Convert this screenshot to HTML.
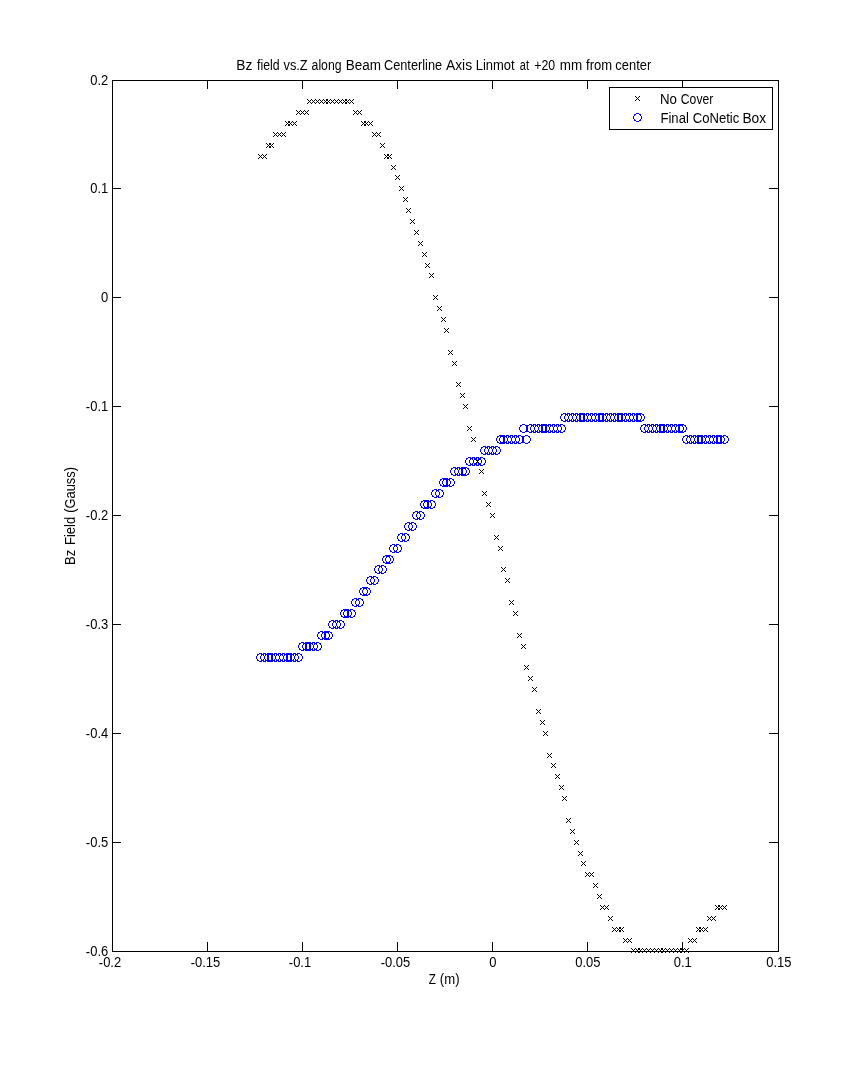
<!DOCTYPE html>
<html lang="en">
<head>
<meta charset="utf-8">
<title>Bz field vs.Z along Beam Centerline Axis</title>
<style>
html,body{margin:0;padding:0;background:#fff;}
body{width:860px;height:1068px;overflow:hidden;}
svg{display:block;}
text{font-family:"Liberation Sans",sans-serif;font-size:14px;fill:#000;}
</style>
</head>
<body>
<svg width="860" height="1068" viewBox="0 0 860 1068">
<rect width="860" height="1068" fill="#fff"/>
<g shape-rendering="crispEdges">
<path fill="#000" d="M112 80h667v1h-667zM112 951h667v1h-667zM112 80h1v872h-1zM778 80h1v872h-1zM207 80h1v9h-1zM207 942h1v9h-1zM302 80h1v9h-1zM302 942h1v9h-1zM397 80h1v9h-1zM397 942h1v9h-1zM492 80h1v9h-1zM492 942h1v9h-1zM587 80h1v9h-1zM587 942h1v9h-1zM682 80h1v9h-1zM682 942h1v9h-1zM112 188h9v1h-9zM769 188h10v1h-10zM112 297h9v1h-9zM769 297h10v1h-10zM112 406h9v1h-9zM769 406h10v1h-10zM112 515h9v1h-9zM769 515h10v1h-10zM112 624h9v1h-9zM769 624h10v1h-10zM112 733h9v1h-9zM769 733h10v1h-10zM112 842h9v1h-9zM769 842h10v1h-10z"/>
<path fill="#00f" d="M259 653h3v1h-3zM257 654h2v1h-2zM262 654h2v1h-2zM257 655h1v1h-1zM263 655h1v1h-1zM256 656h1v3h-1zM264 656h1v3h-1zM257 659h1v1h-1zM263 659h1v1h-1zM257 660h2v1h-2zM262 660h2v1h-2zM259 661h3v1h-3zM263 653h3v1h-3zM261 654h2v1h-2zM266 654h2v1h-2zM261 655h1v1h-1zM267 655h1v1h-1zM260 656h1v3h-1zM268 656h1v3h-1zM261 659h1v1h-1zM267 659h1v1h-1zM261 660h2v1h-2zM266 660h2v1h-2zM263 661h3v1h-3zM267 653h3v1h-3zM265 654h2v1h-2zM270 654h2v1h-2zM265 655h1v1h-1zM271 655h1v1h-1zM264 656h1v3h-1zM272 656h1v3h-1zM265 659h1v1h-1zM271 659h1v1h-1zM265 660h2v1h-2zM270 660h2v1h-2zM267 661h3v1h-3zM270 653h3v1h-3zM268 654h2v1h-2zM273 654h2v1h-2zM268 655h1v1h-1zM274 655h1v1h-1zM267 656h1v3h-1zM275 656h1v3h-1zM268 659h1v1h-1zM274 659h1v1h-1zM268 660h2v1h-2zM273 660h2v1h-2zM270 661h3v1h-3zM274 653h3v1h-3zM272 654h2v1h-2zM277 654h2v1h-2zM272 655h1v1h-1zM278 655h1v1h-1zM271 656h1v3h-1zM279 656h1v3h-1zM272 659h1v1h-1zM278 659h1v1h-1zM272 660h2v1h-2zM277 660h2v1h-2zM274 661h3v1h-3zM278 653h3v1h-3zM276 654h2v1h-2zM281 654h2v1h-2zM276 655h1v1h-1zM282 655h1v1h-1zM275 656h1v3h-1zM283 656h1v3h-1zM276 659h1v1h-1zM282 659h1v1h-1zM276 660h2v1h-2zM281 660h2v1h-2zM278 661h3v1h-3zM282 653h3v1h-3zM280 654h2v1h-2zM285 654h2v1h-2zM280 655h1v1h-1zM286 655h1v1h-1zM279 656h1v3h-1zM287 656h1v3h-1zM280 659h1v1h-1zM286 659h1v1h-1zM280 660h2v1h-2zM285 660h2v1h-2zM282 661h3v1h-3zM286 653h3v1h-3zM284 654h2v1h-2zM289 654h2v1h-2zM284 655h1v1h-1zM290 655h1v1h-1zM283 656h1v3h-1zM291 656h1v3h-1zM284 659h1v1h-1zM290 659h1v1h-1zM284 660h2v1h-2zM289 660h2v1h-2zM286 661h3v1h-3zM289 653h3v1h-3zM287 654h2v1h-2zM292 654h2v1h-2zM287 655h1v1h-1zM293 655h1v1h-1zM286 656h1v3h-1zM294 656h1v3h-1zM287 659h1v1h-1zM293 659h1v1h-1zM287 660h2v1h-2zM292 660h2v1h-2zM289 661h3v1h-3zM293 653h3v1h-3zM291 654h2v1h-2zM296 654h2v1h-2zM291 655h1v1h-1zM297 655h1v1h-1zM290 656h1v3h-1zM298 656h1v3h-1zM291 659h1v1h-1zM297 659h1v1h-1zM291 660h2v1h-2zM296 660h2v1h-2zM293 661h3v1h-3zM297 653h3v1h-3zM295 654h2v1h-2zM300 654h2v1h-2zM295 655h1v1h-1zM301 655h1v1h-1zM294 656h1v3h-1zM302 656h1v3h-1zM295 659h1v1h-1zM301 659h1v1h-1zM295 660h2v1h-2zM300 660h2v1h-2zM297 661h3v1h-3zM301 642h3v1h-3zM299 643h2v1h-2zM304 643h2v1h-2zM299 644h1v1h-1zM305 644h1v1h-1zM298 645h1v3h-1zM306 645h1v3h-1zM299 648h1v1h-1zM305 648h1v1h-1zM299 649h2v1h-2zM304 649h2v1h-2zM301 650h3v1h-3zM305 642h3v1h-3zM303 643h2v1h-2zM308 643h2v1h-2zM303 644h1v1h-1zM309 644h1v1h-1zM302 645h1v3h-1zM310 645h1v3h-1zM303 648h1v1h-1zM309 648h1v1h-1zM303 649h2v1h-2zM308 649h2v1h-2zM305 650h3v1h-3zM308 642h3v1h-3zM306 643h2v1h-2zM311 643h2v1h-2zM306 644h1v1h-1zM312 644h1v1h-1zM305 645h1v3h-1zM313 645h1v3h-1zM306 648h1v1h-1zM312 648h1v1h-1zM306 649h2v1h-2zM311 649h2v1h-2zM308 650h3v1h-3zM312 642h3v1h-3zM310 643h2v1h-2zM315 643h2v1h-2zM310 644h1v1h-1zM316 644h1v1h-1zM309 645h1v3h-1zM317 645h1v3h-1zM310 648h1v1h-1zM316 648h1v1h-1zM310 649h2v1h-2zM315 649h2v1h-2zM312 650h3v1h-3zM316 642h3v1h-3zM314 643h2v1h-2zM319 643h2v1h-2zM314 644h1v1h-1zM320 644h1v1h-1zM313 645h1v3h-1zM321 645h1v3h-1zM314 648h1v1h-1zM320 648h1v1h-1zM314 649h2v1h-2zM319 649h2v1h-2zM316 650h3v1h-3zM320 631h3v1h-3zM318 632h2v1h-2zM323 632h2v1h-2zM318 633h1v1h-1zM324 633h1v1h-1zM317 634h1v3h-1zM325 634h1v3h-1zM318 637h1v1h-1zM324 637h1v1h-1zM318 638h2v1h-2zM323 638h2v1h-2zM320 639h3v1h-3zM324 631h3v1h-3zM322 632h2v1h-2zM327 632h2v1h-2zM322 633h1v1h-1zM328 633h1v1h-1zM321 634h1v3h-1zM329 634h1v3h-1zM322 637h1v1h-1zM328 637h1v1h-1zM322 638h2v1h-2zM327 638h2v1h-2zM324 639h3v1h-3zM327 631h3v1h-3zM325 632h2v1h-2zM330 632h2v1h-2zM325 633h1v1h-1zM331 633h1v1h-1zM324 634h1v3h-1zM332 634h1v3h-1zM325 637h1v1h-1zM331 637h1v1h-1zM325 638h2v1h-2zM330 638h2v1h-2zM327 639h3v1h-3zM331 620h3v1h-3zM329 621h2v1h-2zM334 621h2v1h-2zM329 622h1v1h-1zM335 622h1v1h-1zM328 623h1v3h-1zM336 623h1v3h-1zM329 626h1v1h-1zM335 626h1v1h-1zM329 627h2v1h-2zM334 627h2v1h-2zM331 628h3v1h-3zM335 620h3v1h-3zM333 621h2v1h-2zM338 621h2v1h-2zM333 622h1v1h-1zM339 622h1v1h-1zM332 623h1v3h-1zM340 623h1v3h-1zM333 626h1v1h-1zM339 626h1v1h-1zM333 627h2v1h-2zM338 627h2v1h-2zM335 628h3v1h-3zM339 620h3v1h-3zM337 621h2v1h-2zM342 621h2v1h-2zM337 622h1v1h-1zM343 622h1v1h-1zM336 623h1v3h-1zM344 623h1v3h-1zM337 626h1v1h-1zM343 626h1v1h-1zM337 627h2v1h-2zM342 627h2v1h-2zM339 628h3v1h-3zM343 609h3v1h-3zM341 610h2v1h-2zM346 610h2v1h-2zM341 611h1v1h-1zM347 611h1v1h-1zM340 612h1v3h-1zM348 612h1v3h-1zM341 615h1v1h-1zM347 615h1v1h-1zM341 616h2v1h-2zM346 616h2v1h-2zM343 617h3v1h-3zM346 609h3v1h-3zM344 610h2v1h-2zM349 610h2v1h-2zM344 611h1v1h-1zM350 611h1v1h-1zM343 612h1v3h-1zM351 612h1v3h-1zM344 615h1v1h-1zM350 615h1v1h-1zM344 616h2v1h-2zM349 616h2v1h-2zM346 617h3v1h-3zM350 609h3v1h-3zM348 610h2v1h-2zM353 610h2v1h-2zM348 611h1v1h-1zM354 611h1v1h-1zM347 612h1v3h-1zM355 612h1v3h-1zM348 615h1v1h-1zM354 615h1v1h-1zM348 616h2v1h-2zM353 616h2v1h-2zM350 617h3v1h-3zM354 598h3v1h-3zM352 599h2v1h-2zM357 599h2v1h-2zM352 600h1v1h-1zM358 600h1v1h-1zM351 601h1v3h-1zM359 601h1v3h-1zM352 604h1v1h-1zM358 604h1v1h-1zM352 605h2v1h-2zM357 605h2v1h-2zM354 606h3v1h-3zM358 598h3v1h-3zM356 599h2v1h-2zM361 599h2v1h-2zM356 600h1v1h-1zM362 600h1v1h-1zM355 601h1v3h-1zM363 601h1v3h-1zM356 604h1v1h-1zM362 604h1v1h-1zM356 605h2v1h-2zM361 605h2v1h-2zM358 606h3v1h-3zM362 587h3v1h-3zM360 588h2v1h-2zM365 588h2v1h-2zM360 589h1v1h-1zM366 589h1v1h-1zM359 590h1v3h-1zM367 590h1v3h-1zM360 593h1v1h-1zM366 593h1v1h-1zM360 594h2v1h-2zM365 594h2v1h-2zM362 595h3v1h-3zM365 587h3v1h-3zM363 588h2v1h-2zM368 588h2v1h-2zM363 589h1v1h-1zM369 589h1v1h-1zM362 590h1v3h-1zM370 590h1v3h-1zM363 593h1v1h-1zM369 593h1v1h-1zM363 594h2v1h-2zM368 594h2v1h-2zM365 595h3v1h-3zM369 576h3v1h-3zM367 577h2v1h-2zM372 577h2v1h-2zM367 578h1v1h-1zM373 578h1v1h-1zM366 579h1v3h-1zM374 579h1v3h-1zM367 582h1v1h-1zM373 582h1v1h-1zM367 583h2v1h-2zM372 583h2v1h-2zM369 584h3v1h-3zM373 576h3v1h-3zM371 577h2v1h-2zM376 577h2v1h-2zM371 578h1v1h-1zM377 578h1v1h-1zM370 579h1v3h-1zM378 579h1v3h-1zM371 582h1v1h-1zM377 582h1v1h-1zM371 583h2v1h-2zM376 583h2v1h-2zM373 584h3v1h-3zM377 565h3v1h-3zM375 566h2v1h-2zM380 566h2v1h-2zM375 567h1v1h-1zM381 567h1v1h-1zM374 568h1v3h-1zM382 568h1v3h-1zM375 571h1v1h-1zM381 571h1v1h-1zM375 572h2v1h-2zM380 572h2v1h-2zM377 573h3v1h-3zM381 565h3v1h-3zM379 566h2v1h-2zM384 566h2v1h-2zM379 567h1v1h-1zM385 567h1v1h-1zM378 568h1v3h-1zM386 568h1v3h-1zM379 571h1v1h-1zM385 571h1v1h-1zM379 572h2v1h-2zM384 572h2v1h-2zM381 573h3v1h-3zM385 555h3v1h-3zM383 556h2v1h-2zM388 556h2v1h-2zM383 557h1v1h-1zM389 557h1v1h-1zM382 558h1v3h-1zM390 558h1v3h-1zM383 561h1v1h-1zM389 561h1v1h-1zM383 562h2v1h-2zM388 562h2v1h-2zM385 563h3v1h-3zM388 555h3v1h-3zM386 556h2v1h-2zM391 556h2v1h-2zM386 557h1v1h-1zM392 557h1v1h-1zM385 558h1v3h-1zM393 558h1v3h-1zM386 561h1v1h-1zM392 561h1v1h-1zM386 562h2v1h-2zM391 562h2v1h-2zM388 563h3v1h-3zM392 544h3v1h-3zM390 545h2v1h-2zM395 545h2v1h-2zM390 546h1v1h-1zM396 546h1v1h-1zM389 547h1v3h-1zM397 547h1v3h-1zM390 550h1v1h-1zM396 550h1v1h-1zM390 551h2v1h-2zM395 551h2v1h-2zM392 552h3v1h-3zM396 544h3v1h-3zM394 545h2v1h-2zM399 545h2v1h-2zM394 546h1v1h-1zM400 546h1v1h-1zM393 547h1v3h-1zM401 547h1v3h-1zM394 550h1v1h-1zM400 550h1v1h-1zM394 551h2v1h-2zM399 551h2v1h-2zM396 552h3v1h-3zM400 533h3v1h-3zM398 534h2v1h-2zM403 534h2v1h-2zM398 535h1v1h-1zM404 535h1v1h-1zM397 536h1v3h-1zM405 536h1v3h-1zM398 539h1v1h-1zM404 539h1v1h-1zM398 540h2v1h-2zM403 540h2v1h-2zM400 541h3v1h-3zM404 533h3v1h-3zM402 534h2v1h-2zM407 534h2v1h-2zM402 535h1v1h-1zM408 535h1v1h-1zM401 536h1v3h-1zM409 536h1v3h-1zM402 539h1v1h-1zM408 539h1v1h-1zM402 540h2v1h-2zM407 540h2v1h-2zM404 541h3v1h-3zM407 522h3v1h-3zM405 523h2v1h-2zM410 523h2v1h-2zM405 524h1v1h-1zM411 524h1v1h-1zM404 525h1v3h-1zM412 525h1v3h-1zM405 528h1v1h-1zM411 528h1v1h-1zM405 529h2v1h-2zM410 529h2v1h-2zM407 530h3v1h-3zM411 522h3v1h-3zM409 523h2v1h-2zM414 523h2v1h-2zM409 524h1v1h-1zM415 524h1v1h-1zM408 525h1v3h-1zM416 525h1v3h-1zM409 528h1v1h-1zM415 528h1v1h-1zM409 529h2v1h-2zM414 529h2v1h-2zM411 530h3v1h-3zM415 511h3v1h-3zM413 512h2v1h-2zM418 512h2v1h-2zM413 513h1v1h-1zM419 513h1v1h-1zM412 514h1v3h-1zM420 514h1v3h-1zM413 517h1v1h-1zM419 517h1v1h-1zM413 518h2v1h-2zM418 518h2v1h-2zM415 519h3v1h-3zM419 511h3v1h-3zM417 512h2v1h-2zM422 512h2v1h-2zM417 513h1v1h-1zM423 513h1v1h-1zM416 514h1v3h-1zM424 514h1v3h-1zM417 517h1v1h-1zM423 517h1v1h-1zM417 518h2v1h-2zM422 518h2v1h-2zM419 519h3v1h-3zM423 500h3v1h-3zM421 501h2v1h-2zM426 501h2v1h-2zM421 502h1v1h-1zM427 502h1v1h-1zM420 503h1v3h-1zM428 503h1v3h-1zM421 506h1v1h-1zM427 506h1v1h-1zM421 507h2v1h-2zM426 507h2v1h-2zM423 508h3v1h-3zM426 500h3v1h-3zM424 501h2v1h-2zM429 501h2v1h-2zM424 502h1v1h-1zM430 502h1v1h-1zM423 503h1v3h-1zM431 503h1v3h-1zM424 506h1v1h-1zM430 506h1v1h-1zM424 507h2v1h-2zM429 507h2v1h-2zM426 508h3v1h-3zM430 500h3v1h-3zM428 501h2v1h-2zM433 501h2v1h-2zM428 502h1v1h-1zM434 502h1v1h-1zM427 503h1v3h-1zM435 503h1v3h-1zM428 506h1v1h-1zM434 506h1v1h-1zM428 507h2v1h-2zM433 507h2v1h-2zM430 508h3v1h-3zM434 489h3v1h-3zM432 490h2v1h-2zM437 490h2v1h-2zM432 491h1v1h-1zM438 491h1v1h-1zM431 492h1v3h-1zM439 492h1v3h-1zM432 495h1v1h-1zM438 495h1v1h-1zM432 496h2v1h-2zM437 496h2v1h-2zM434 497h3v1h-3zM438 489h3v1h-3zM436 490h2v1h-2zM441 490h2v1h-2zM436 491h1v1h-1zM442 491h1v1h-1zM435 492h1v3h-1zM443 492h1v3h-1zM436 495h1v1h-1zM442 495h1v1h-1zM436 496h2v1h-2zM441 496h2v1h-2zM438 497h3v1h-3zM442 478h3v1h-3zM440 479h2v1h-2zM445 479h2v1h-2zM440 480h1v1h-1zM446 480h1v1h-1zM439 481h1v3h-1zM447 481h1v3h-1zM440 484h1v1h-1zM446 484h1v1h-1zM440 485h2v1h-2zM445 485h2v1h-2zM442 486h3v1h-3zM445 478h3v1h-3zM443 479h2v1h-2zM448 479h2v1h-2zM443 480h1v1h-1zM449 480h1v1h-1zM442 481h1v3h-1zM450 481h1v3h-1zM443 484h1v1h-1zM449 484h1v1h-1zM443 485h2v1h-2zM448 485h2v1h-2zM445 486h3v1h-3zM449 478h3v1h-3zM447 479h2v1h-2zM452 479h2v1h-2zM447 480h1v1h-1zM453 480h1v1h-1zM446 481h1v3h-1zM454 481h1v3h-1zM447 484h1v1h-1zM453 484h1v1h-1zM447 485h2v1h-2zM452 485h2v1h-2zM449 486h3v1h-3zM453 467h3v1h-3zM451 468h2v1h-2zM456 468h2v1h-2zM451 469h1v1h-1zM457 469h1v1h-1zM450 470h1v3h-1zM458 470h1v3h-1zM451 473h1v1h-1zM457 473h1v1h-1zM451 474h2v1h-2zM456 474h2v1h-2zM453 475h3v1h-3zM457 467h3v1h-3zM455 468h2v1h-2zM460 468h2v1h-2zM455 469h1v1h-1zM461 469h1v1h-1zM454 470h1v3h-1zM462 470h1v3h-1zM455 473h1v1h-1zM461 473h1v1h-1zM455 474h2v1h-2zM460 474h2v1h-2zM457 475h3v1h-3zM461 467h3v1h-3zM459 468h2v1h-2zM464 468h2v1h-2zM459 469h1v1h-1zM465 469h1v1h-1zM458 470h1v3h-1zM466 470h1v3h-1zM459 473h1v1h-1zM465 473h1v1h-1zM459 474h2v1h-2zM464 474h2v1h-2zM461 475h3v1h-3zM464 467h3v1h-3zM462 468h2v1h-2zM467 468h2v1h-2zM462 469h1v1h-1zM468 469h1v1h-1zM461 470h1v3h-1zM469 470h1v3h-1zM462 473h1v1h-1zM468 473h1v1h-1zM462 474h2v1h-2zM467 474h2v1h-2zM464 475h3v1h-3zM468 457h3v1h-3zM466 458h2v1h-2zM471 458h2v1h-2zM466 459h1v1h-1zM472 459h1v1h-1zM465 460h1v3h-1zM473 460h1v3h-1zM466 463h1v1h-1zM472 463h1v1h-1zM466 464h2v1h-2zM471 464h2v1h-2zM468 465h3v1h-3zM472 457h3v1h-3zM470 458h2v1h-2zM475 458h2v1h-2zM470 459h1v1h-1zM476 459h1v1h-1zM469 460h1v3h-1zM477 460h1v3h-1zM470 463h1v1h-1zM476 463h1v1h-1zM470 464h2v1h-2zM475 464h2v1h-2zM472 465h3v1h-3zM476 457h3v1h-3zM474 458h2v1h-2zM479 458h2v1h-2zM474 459h1v1h-1zM480 459h1v1h-1zM473 460h1v3h-1zM481 460h1v3h-1zM474 463h1v1h-1zM480 463h1v1h-1zM474 464h2v1h-2zM479 464h2v1h-2zM476 465h3v1h-3zM480 457h3v1h-3zM478 458h2v1h-2zM483 458h2v1h-2zM478 459h1v1h-1zM484 459h1v1h-1zM477 460h1v3h-1zM485 460h1v3h-1zM478 463h1v1h-1zM484 463h1v1h-1zM478 464h2v1h-2zM483 464h2v1h-2zM480 465h3v1h-3zM483 446h3v1h-3zM481 447h2v1h-2zM486 447h2v1h-2zM481 448h1v1h-1zM487 448h1v1h-1zM480 449h1v3h-1zM488 449h1v3h-1zM481 452h1v1h-1zM487 452h1v1h-1zM481 453h2v1h-2zM486 453h2v1h-2zM483 454h3v1h-3zM487 446h3v1h-3zM485 447h2v1h-2zM490 447h2v1h-2zM485 448h1v1h-1zM491 448h1v1h-1zM484 449h1v3h-1zM492 449h1v3h-1zM485 452h1v1h-1zM491 452h1v1h-1zM485 453h2v1h-2zM490 453h2v1h-2zM487 454h3v1h-3zM491 446h3v1h-3zM489 447h2v1h-2zM494 447h2v1h-2zM489 448h1v1h-1zM495 448h1v1h-1zM488 449h1v3h-1zM496 449h1v3h-1zM489 452h1v1h-1zM495 452h1v1h-1zM489 453h2v1h-2zM494 453h2v1h-2zM491 454h3v1h-3zM495 446h3v1h-3zM493 447h2v1h-2zM498 447h2v1h-2zM493 448h1v1h-1zM499 448h1v1h-1zM492 449h1v3h-1zM500 449h1v3h-1zM493 452h1v1h-1zM499 452h1v1h-1zM493 453h2v1h-2zM498 453h2v1h-2zM495 454h3v1h-3zM499 435h3v1h-3zM497 436h2v1h-2zM502 436h2v1h-2zM497 437h1v1h-1zM503 437h1v1h-1zM496 438h1v3h-1zM504 438h1v3h-1zM497 441h1v1h-1zM503 441h1v1h-1zM497 442h2v1h-2zM502 442h2v1h-2zM499 443h3v1h-3zM502 435h3v1h-3zM500 436h2v1h-2zM505 436h2v1h-2zM500 437h1v1h-1zM506 437h1v1h-1zM499 438h1v3h-1zM507 438h1v3h-1zM500 441h1v1h-1zM506 441h1v1h-1zM500 442h2v1h-2zM505 442h2v1h-2zM502 443h3v1h-3zM506 435h3v1h-3zM504 436h2v1h-2zM509 436h2v1h-2zM504 437h1v1h-1zM510 437h1v1h-1zM503 438h1v3h-1zM511 438h1v3h-1zM504 441h1v1h-1zM510 441h1v1h-1zM504 442h2v1h-2zM509 442h2v1h-2zM506 443h3v1h-3zM510 435h3v1h-3zM508 436h2v1h-2zM513 436h2v1h-2zM508 437h1v1h-1zM514 437h1v1h-1zM507 438h1v3h-1zM515 438h1v3h-1zM508 441h1v1h-1zM514 441h1v1h-1zM508 442h2v1h-2zM513 442h2v1h-2zM510 443h3v1h-3zM514 435h3v1h-3zM512 436h2v1h-2zM517 436h2v1h-2zM512 437h1v1h-1zM518 437h1v1h-1zM511 438h1v3h-1zM519 438h1v3h-1zM512 441h1v1h-1zM518 441h1v1h-1zM512 442h2v1h-2zM517 442h2v1h-2zM514 443h3v1h-3zM518 435h3v1h-3zM516 436h2v1h-2zM521 436h2v1h-2zM516 437h1v1h-1zM522 437h1v1h-1zM515 438h1v3h-1zM523 438h1v3h-1zM516 441h1v1h-1zM522 441h1v1h-1zM516 442h2v1h-2zM521 442h2v1h-2zM518 443h3v1h-3zM522 424h3v1h-3zM520 425h2v1h-2zM525 425h2v1h-2zM520 426h1v1h-1zM526 426h1v1h-1zM519 427h1v3h-1zM527 427h1v3h-1zM520 430h1v1h-1zM526 430h1v1h-1zM520 431h2v1h-2zM525 431h2v1h-2zM522 432h3v1h-3zM525 435h3v1h-3zM523 436h2v1h-2zM528 436h2v1h-2zM523 437h1v1h-1zM529 437h1v1h-1zM522 438h1v3h-1zM530 438h1v3h-1zM523 441h1v1h-1zM529 441h1v1h-1zM523 442h2v1h-2zM528 442h2v1h-2zM525 443h3v1h-3zM529 424h3v1h-3zM527 425h2v1h-2zM532 425h2v1h-2zM527 426h1v1h-1zM533 426h1v1h-1zM526 427h1v3h-1zM534 427h1v3h-1zM527 430h1v1h-1zM533 430h1v1h-1zM527 431h2v1h-2zM532 431h2v1h-2zM529 432h3v1h-3zM533 424h3v1h-3zM531 425h2v1h-2zM536 425h2v1h-2zM531 426h1v1h-1zM537 426h1v1h-1zM530 427h1v3h-1zM538 427h1v3h-1zM531 430h1v1h-1zM537 430h1v1h-1zM531 431h2v1h-2zM536 431h2v1h-2zM533 432h3v1h-3zM537 424h3v1h-3zM535 425h2v1h-2zM540 425h2v1h-2zM535 426h1v1h-1zM541 426h1v1h-1zM534 427h1v3h-1zM542 427h1v3h-1zM535 430h1v1h-1zM541 430h1v1h-1zM535 431h2v1h-2zM540 431h2v1h-2zM537 432h3v1h-3zM541 424h3v1h-3zM539 425h2v1h-2zM544 425h2v1h-2zM539 426h1v1h-1zM545 426h1v1h-1zM538 427h1v3h-1zM546 427h1v3h-1zM539 430h1v1h-1zM545 430h1v1h-1zM539 431h2v1h-2zM544 431h2v1h-2zM541 432h3v1h-3zM544 424h3v1h-3zM542 425h2v1h-2zM547 425h2v1h-2zM542 426h1v1h-1zM548 426h1v1h-1zM541 427h1v3h-1zM549 427h1v3h-1zM542 430h1v1h-1zM548 430h1v1h-1zM542 431h2v1h-2zM547 431h2v1h-2zM544 432h3v1h-3zM548 424h3v1h-3zM546 425h2v1h-2zM551 425h2v1h-2zM546 426h1v1h-1zM552 426h1v1h-1zM545 427h1v3h-1zM553 427h1v3h-1zM546 430h1v1h-1zM552 430h1v1h-1zM546 431h2v1h-2zM551 431h2v1h-2zM548 432h3v1h-3zM552 424h3v1h-3zM550 425h2v1h-2zM555 425h2v1h-2zM550 426h1v1h-1zM556 426h1v1h-1zM549 427h1v3h-1zM557 427h1v3h-1zM550 430h1v1h-1zM556 430h1v1h-1zM550 431h2v1h-2zM555 431h2v1h-2zM552 432h3v1h-3zM556 424h3v1h-3zM554 425h2v1h-2zM559 425h2v1h-2zM554 426h1v1h-1zM560 426h1v1h-1zM553 427h1v3h-1zM561 427h1v3h-1zM554 430h1v1h-1zM560 430h1v1h-1zM554 431h2v1h-2zM559 431h2v1h-2zM556 432h3v1h-3zM560 424h3v1h-3zM558 425h2v1h-2zM563 425h2v1h-2zM558 426h1v1h-1zM564 426h1v1h-1zM557 427h1v3h-1zM565 427h1v3h-1zM558 430h1v1h-1zM564 430h1v1h-1zM558 431h2v1h-2zM563 431h2v1h-2zM560 432h3v1h-3zM563 413h3v1h-3zM561 414h2v1h-2zM566 414h2v1h-2zM561 415h1v1h-1zM567 415h1v1h-1zM560 416h1v3h-1zM568 416h1v3h-1zM561 419h1v1h-1zM567 419h1v1h-1zM561 420h2v1h-2zM566 420h2v1h-2zM563 421h3v1h-3zM567 413h3v1h-3zM565 414h2v1h-2zM570 414h2v1h-2zM565 415h1v1h-1zM571 415h1v1h-1zM564 416h1v3h-1zM572 416h1v3h-1zM565 419h1v1h-1zM571 419h1v1h-1zM565 420h2v1h-2zM570 420h2v1h-2zM567 421h3v1h-3zM571 413h3v1h-3zM569 414h2v1h-2zM574 414h2v1h-2zM569 415h1v1h-1zM575 415h1v1h-1zM568 416h1v3h-1zM576 416h1v3h-1zM569 419h1v1h-1zM575 419h1v1h-1zM569 420h2v1h-2zM574 420h2v1h-2zM571 421h3v1h-3zM575 413h3v1h-3zM573 414h2v1h-2zM578 414h2v1h-2zM573 415h1v1h-1zM579 415h1v1h-1zM572 416h1v3h-1zM580 416h1v3h-1zM573 419h1v1h-1zM579 419h1v1h-1zM573 420h2v1h-2zM578 420h2v1h-2zM575 421h3v1h-3zM579 413h3v1h-3zM577 414h2v1h-2zM582 414h2v1h-2zM577 415h1v1h-1zM583 415h1v1h-1zM576 416h1v3h-1zM584 416h1v3h-1zM577 419h1v1h-1zM583 419h1v1h-1zM577 420h2v1h-2zM582 420h2v1h-2zM579 421h3v1h-3zM582 413h3v1h-3zM580 414h2v1h-2zM585 414h2v1h-2zM580 415h1v1h-1zM586 415h1v1h-1zM579 416h1v3h-1zM587 416h1v3h-1zM580 419h1v1h-1zM586 419h1v1h-1zM580 420h2v1h-2zM585 420h2v1h-2zM582 421h3v1h-3zM586 413h3v1h-3zM584 414h2v1h-2zM589 414h2v1h-2zM584 415h1v1h-1zM590 415h1v1h-1zM583 416h1v3h-1zM591 416h1v3h-1zM584 419h1v1h-1zM590 419h1v1h-1zM584 420h2v1h-2zM589 420h2v1h-2zM586 421h3v1h-3zM590 413h3v1h-3zM588 414h2v1h-2zM593 414h2v1h-2zM588 415h1v1h-1zM594 415h1v1h-1zM587 416h1v3h-1zM595 416h1v3h-1zM588 419h1v1h-1zM594 419h1v1h-1zM588 420h2v1h-2zM593 420h2v1h-2zM590 421h3v1h-3zM594 413h3v1h-3zM592 414h2v1h-2zM597 414h2v1h-2zM592 415h1v1h-1zM598 415h1v1h-1zM591 416h1v3h-1zM599 416h1v3h-1zM592 419h1v1h-1zM598 419h1v1h-1zM592 420h2v1h-2zM597 420h2v1h-2zM594 421h3v1h-3zM598 413h3v1h-3zM596 414h2v1h-2zM601 414h2v1h-2zM596 415h1v1h-1zM602 415h1v1h-1zM595 416h1v3h-1zM603 416h1v3h-1zM596 419h1v1h-1zM602 419h1v1h-1zM596 420h2v1h-2zM601 420h2v1h-2zM598 421h3v1h-3zM601 413h3v1h-3zM599 414h2v1h-2zM604 414h2v1h-2zM599 415h1v1h-1zM605 415h1v1h-1zM598 416h1v3h-1zM606 416h1v3h-1zM599 419h1v1h-1zM605 419h1v1h-1zM599 420h2v1h-2zM604 420h2v1h-2zM601 421h3v1h-3zM605 413h3v1h-3zM603 414h2v1h-2zM608 414h2v1h-2zM603 415h1v1h-1zM609 415h1v1h-1zM602 416h1v3h-1zM610 416h1v3h-1zM603 419h1v1h-1zM609 419h1v1h-1zM603 420h2v1h-2zM608 420h2v1h-2zM605 421h3v1h-3zM609 413h3v1h-3zM607 414h2v1h-2zM612 414h2v1h-2zM607 415h1v1h-1zM613 415h1v1h-1zM606 416h1v3h-1zM614 416h1v3h-1zM607 419h1v1h-1zM613 419h1v1h-1zM607 420h2v1h-2zM612 420h2v1h-2zM609 421h3v1h-3zM613 413h3v1h-3zM611 414h2v1h-2zM616 414h2v1h-2zM611 415h1v1h-1zM617 415h1v1h-1zM610 416h1v3h-1zM618 416h1v3h-1zM611 419h1v1h-1zM617 419h1v1h-1zM611 420h2v1h-2zM616 420h2v1h-2zM613 421h3v1h-3zM617 413h3v1h-3zM615 414h2v1h-2zM620 414h2v1h-2zM615 415h1v1h-1zM621 415h1v1h-1zM614 416h1v3h-1zM622 416h1v3h-1zM615 419h1v1h-1zM621 419h1v1h-1zM615 420h2v1h-2zM620 420h2v1h-2zM617 421h3v1h-3zM620 413h3v1h-3zM618 414h2v1h-2zM623 414h2v1h-2zM618 415h1v1h-1zM624 415h1v1h-1zM617 416h1v3h-1zM625 416h1v3h-1zM618 419h1v1h-1zM624 419h1v1h-1zM618 420h2v1h-2zM623 420h2v1h-2zM620 421h3v1h-3zM624 413h3v1h-3zM622 414h2v1h-2zM627 414h2v1h-2zM622 415h1v1h-1zM628 415h1v1h-1zM621 416h1v3h-1zM629 416h1v3h-1zM622 419h1v1h-1zM628 419h1v1h-1zM622 420h2v1h-2zM627 420h2v1h-2zM624 421h3v1h-3zM628 413h3v1h-3zM626 414h2v1h-2zM631 414h2v1h-2zM626 415h1v1h-1zM632 415h1v1h-1zM625 416h1v3h-1zM633 416h1v3h-1zM626 419h1v1h-1zM632 419h1v1h-1zM626 420h2v1h-2zM631 420h2v1h-2zM628 421h3v1h-3zM632 413h3v1h-3zM630 414h2v1h-2zM635 414h2v1h-2zM630 415h1v1h-1zM636 415h1v1h-1zM629 416h1v3h-1zM637 416h1v3h-1zM630 419h1v1h-1zM636 419h1v1h-1zM630 420h2v1h-2zM635 420h2v1h-2zM632 421h3v1h-3zM636 413h3v1h-3zM634 414h2v1h-2zM639 414h2v1h-2zM634 415h1v1h-1zM640 415h1v1h-1zM633 416h1v3h-1zM641 416h1v3h-1zM634 419h1v1h-1zM640 419h1v1h-1zM634 420h2v1h-2zM639 420h2v1h-2zM636 421h3v1h-3zM639 413h3v1h-3zM637 414h2v1h-2zM642 414h2v1h-2zM637 415h1v1h-1zM643 415h1v1h-1zM636 416h1v3h-1zM644 416h1v3h-1zM637 419h1v1h-1zM643 419h1v1h-1zM637 420h2v1h-2zM642 420h2v1h-2zM639 421h3v1h-3zM643 424h3v1h-3zM641 425h2v1h-2zM646 425h2v1h-2zM641 426h1v1h-1zM647 426h1v1h-1zM640 427h1v3h-1zM648 427h1v3h-1zM641 430h1v1h-1zM647 430h1v1h-1zM641 431h2v1h-2zM646 431h2v1h-2zM643 432h3v1h-3zM647 424h3v1h-3zM645 425h2v1h-2zM650 425h2v1h-2zM645 426h1v1h-1zM651 426h1v1h-1zM644 427h1v3h-1zM652 427h1v3h-1zM645 430h1v1h-1zM651 430h1v1h-1zM645 431h2v1h-2zM650 431h2v1h-2zM647 432h3v1h-3zM651 424h3v1h-3zM649 425h2v1h-2zM654 425h2v1h-2zM649 426h1v1h-1zM655 426h1v1h-1zM648 427h1v3h-1zM656 427h1v3h-1zM649 430h1v1h-1zM655 430h1v1h-1zM649 431h2v1h-2zM654 431h2v1h-2zM651 432h3v1h-3zM655 424h3v1h-3zM653 425h2v1h-2zM658 425h2v1h-2zM653 426h1v1h-1zM659 426h1v1h-1zM652 427h1v3h-1zM660 427h1v3h-1zM653 430h1v1h-1zM659 430h1v1h-1zM653 431h2v1h-2zM658 431h2v1h-2zM655 432h3v1h-3zM659 424h3v1h-3zM657 425h2v1h-2zM662 425h2v1h-2zM657 426h1v1h-1zM663 426h1v1h-1zM656 427h1v3h-1zM664 427h1v3h-1zM657 430h1v1h-1zM663 430h1v1h-1zM657 431h2v1h-2zM662 431h2v1h-2zM659 432h3v1h-3zM662 424h3v1h-3zM660 425h2v1h-2zM665 425h2v1h-2zM660 426h1v1h-1zM666 426h1v1h-1zM659 427h1v3h-1zM667 427h1v3h-1zM660 430h1v1h-1zM666 430h1v1h-1zM660 431h2v1h-2zM665 431h2v1h-2zM662 432h3v1h-3zM666 424h3v1h-3zM664 425h2v1h-2zM669 425h2v1h-2zM664 426h1v1h-1zM670 426h1v1h-1zM663 427h1v3h-1zM671 427h1v3h-1zM664 430h1v1h-1zM670 430h1v1h-1zM664 431h2v1h-2zM669 431h2v1h-2zM666 432h3v1h-3zM670 424h3v1h-3zM668 425h2v1h-2zM673 425h2v1h-2zM668 426h1v1h-1zM674 426h1v1h-1zM667 427h1v3h-1zM675 427h1v3h-1zM668 430h1v1h-1zM674 430h1v1h-1zM668 431h2v1h-2zM673 431h2v1h-2zM670 432h3v1h-3zM674 424h3v1h-3zM672 425h2v1h-2zM677 425h2v1h-2zM672 426h1v1h-1zM678 426h1v1h-1zM671 427h1v3h-1zM679 427h1v3h-1zM672 430h1v1h-1zM678 430h1v1h-1zM672 431h2v1h-2zM677 431h2v1h-2zM674 432h3v1h-3zM678 424h3v1h-3zM676 425h2v1h-2zM681 425h2v1h-2zM676 426h1v1h-1zM682 426h1v1h-1zM675 427h1v3h-1zM683 427h1v3h-1zM676 430h1v1h-1zM682 430h1v1h-1zM676 431h2v1h-2zM681 431h2v1h-2zM678 432h3v1h-3zM681 424h3v1h-3zM679 425h2v1h-2zM684 425h2v1h-2zM679 426h1v1h-1zM685 426h1v1h-1zM678 427h1v3h-1zM686 427h1v3h-1zM679 430h1v1h-1zM685 430h1v1h-1zM679 431h2v1h-2zM684 431h2v1h-2zM681 432h3v1h-3zM685 435h3v1h-3zM683 436h2v1h-2zM688 436h2v1h-2zM683 437h1v1h-1zM689 437h1v1h-1zM682 438h1v3h-1zM690 438h1v3h-1zM683 441h1v1h-1zM689 441h1v1h-1zM683 442h2v1h-2zM688 442h2v1h-2zM685 443h3v1h-3zM689 435h3v1h-3zM687 436h2v1h-2zM692 436h2v1h-2zM687 437h1v1h-1zM693 437h1v1h-1zM686 438h1v3h-1zM694 438h1v3h-1zM687 441h1v1h-1zM693 441h1v1h-1zM687 442h2v1h-2zM692 442h2v1h-2zM689 443h3v1h-3zM693 435h3v1h-3zM691 436h2v1h-2zM696 436h2v1h-2zM691 437h1v1h-1zM697 437h1v1h-1zM690 438h1v3h-1zM698 438h1v3h-1zM691 441h1v1h-1zM697 441h1v1h-1zM691 442h2v1h-2zM696 442h2v1h-2zM693 443h3v1h-3zM697 435h3v1h-3zM695 436h2v1h-2zM700 436h2v1h-2zM695 437h1v1h-1zM701 437h1v1h-1zM694 438h1v3h-1zM702 438h1v3h-1zM695 441h1v1h-1zM701 441h1v1h-1zM695 442h2v1h-2zM700 442h2v1h-2zM697 443h3v1h-3zM700 435h3v1h-3zM698 436h2v1h-2zM703 436h2v1h-2zM698 437h1v1h-1zM704 437h1v1h-1zM697 438h1v3h-1zM705 438h1v3h-1zM698 441h1v1h-1zM704 441h1v1h-1zM698 442h2v1h-2zM703 442h2v1h-2zM700 443h3v1h-3zM704 435h3v1h-3zM702 436h2v1h-2zM707 436h2v1h-2zM702 437h1v1h-1zM708 437h1v1h-1zM701 438h1v3h-1zM709 438h1v3h-1zM702 441h1v1h-1zM708 441h1v1h-1zM702 442h2v1h-2zM707 442h2v1h-2zM704 443h3v1h-3zM708 435h3v1h-3zM706 436h2v1h-2zM711 436h2v1h-2zM706 437h1v1h-1zM712 437h1v1h-1zM705 438h1v3h-1zM713 438h1v3h-1zM706 441h1v1h-1zM712 441h1v1h-1zM706 442h2v1h-2zM711 442h2v1h-2zM708 443h3v1h-3zM712 435h3v1h-3zM710 436h2v1h-2zM715 436h2v1h-2zM710 437h1v1h-1zM716 437h1v1h-1zM709 438h1v3h-1zM717 438h1v3h-1zM710 441h1v1h-1zM716 441h1v1h-1zM710 442h2v1h-2zM715 442h2v1h-2zM712 443h3v1h-3zM716 435h3v1h-3zM714 436h2v1h-2zM719 436h2v1h-2zM714 437h1v1h-1zM720 437h1v1h-1zM713 438h1v3h-1zM721 438h1v3h-1zM714 441h1v1h-1zM720 441h1v1h-1zM714 442h2v1h-2zM719 442h2v1h-2zM716 443h3v1h-3zM719 435h3v1h-3zM717 436h2v1h-2zM722 436h2v1h-2zM717 437h1v1h-1zM723 437h1v1h-1zM716 438h1v3h-1zM724 438h1v3h-1zM717 441h1v1h-1zM723 441h1v1h-1zM717 442h2v1h-2zM722 442h2v1h-2zM719 443h3v1h-3zM723 435h3v1h-3zM721 436h2v1h-2zM726 436h2v1h-2zM721 437h1v1h-1zM727 437h1v1h-1zM720 438h1v3h-1zM728 438h1v3h-1zM721 441h1v1h-1zM727 441h1v1h-1zM721 442h2v1h-2zM726 442h2v1h-2zM723 443h3v1h-3z"/>
<path fill="#000" d="M258 154h1v1h-1zM258 158h1v1h-1zM259 155h1v1h-1zM259 157h1v1h-1zM260 156h1v1h-1zM261 157h1v1h-1zM261 155h1v1h-1zM262 158h1v1h-1zM262 154h1v1h-1zM262 154h1v1h-1zM262 158h1v1h-1zM263 155h1v1h-1zM263 157h1v1h-1zM264 156h1v1h-1zM265 157h1v1h-1zM265 155h1v1h-1zM266 158h1v1h-1zM266 154h1v1h-1zM266 143h1v1h-1zM266 147h1v1h-1zM267 144h1v1h-1zM267 146h1v1h-1zM268 145h1v1h-1zM269 146h1v1h-1zM269 144h1v1h-1zM270 147h1v1h-1zM270 143h1v1h-1zM269 143h1v1h-1zM269 147h1v1h-1zM270 144h1v1h-1zM270 146h1v1h-1zM271 145h1v1h-1zM272 146h1v1h-1zM272 144h1v1h-1zM273 147h1v1h-1zM273 143h1v1h-1zM273 132h1v1h-1zM273 136h1v1h-1zM274 133h1v1h-1zM274 135h1v1h-1zM275 134h1v1h-1zM276 135h1v1h-1zM276 133h1v1h-1zM277 136h1v1h-1zM277 132h1v1h-1zM277 132h1v1h-1zM277 136h1v1h-1zM278 133h1v1h-1zM278 135h1v1h-1zM279 134h1v1h-1zM280 135h1v1h-1zM280 133h1v1h-1zM281 136h1v1h-1zM281 132h1v1h-1zM281 132h1v1h-1zM281 136h1v1h-1zM282 133h1v1h-1zM282 135h1v1h-1zM283 134h1v1h-1zM284 135h1v1h-1zM284 133h1v1h-1zM285 136h1v1h-1zM285 132h1v1h-1zM285 121h1v1h-1zM285 125h1v1h-1zM286 122h1v1h-1zM286 124h1v1h-1zM287 123h1v1h-1zM288 124h1v1h-1zM288 122h1v1h-1zM289 125h1v1h-1zM289 121h1v1h-1zM288 121h1v1h-1zM288 125h1v1h-1zM289 122h1v1h-1zM289 124h1v1h-1zM290 123h1v1h-1zM291 124h1v1h-1zM291 122h1v1h-1zM292 125h1v1h-1zM292 121h1v1h-1zM292 121h1v1h-1zM292 125h1v1h-1zM293 122h1v1h-1zM293 124h1v1h-1zM294 123h1v1h-1zM295 124h1v1h-1zM295 122h1v1h-1zM296 125h1v1h-1zM296 121h1v1h-1zM296 110h1v1h-1zM296 114h1v1h-1zM297 111h1v1h-1zM297 113h1v1h-1zM298 112h1v1h-1zM299 113h1v1h-1zM299 111h1v1h-1zM300 114h1v1h-1zM300 110h1v1h-1zM300 110h1v1h-1zM300 114h1v1h-1zM301 111h1v1h-1zM301 113h1v1h-1zM302 112h1v1h-1zM303 113h1v1h-1zM303 111h1v1h-1zM304 114h1v1h-1zM304 110h1v1h-1zM304 110h1v1h-1zM304 114h1v1h-1zM305 111h1v1h-1zM305 113h1v1h-1zM306 112h1v1h-1zM307 113h1v1h-1zM307 111h1v1h-1zM308 114h1v1h-1zM308 110h1v1h-1zM307 99h1v1h-1zM307 103h1v1h-1zM308 100h1v1h-1zM308 102h1v1h-1zM309 101h1v1h-1zM310 102h1v1h-1zM310 100h1v1h-1zM311 103h1v1h-1zM311 99h1v1h-1zM311 99h1v1h-1zM311 103h1v1h-1zM312 100h1v1h-1zM312 102h1v1h-1zM313 101h1v1h-1zM314 102h1v1h-1zM314 100h1v1h-1zM315 103h1v1h-1zM315 99h1v1h-1zM315 99h1v1h-1zM315 103h1v1h-1zM316 100h1v1h-1zM316 102h1v1h-1zM317 101h1v1h-1zM318 102h1v1h-1zM318 100h1v1h-1zM319 103h1v1h-1zM319 99h1v1h-1zM319 99h1v1h-1zM319 103h1v1h-1zM320 100h1v1h-1zM320 102h1v1h-1zM321 101h1v1h-1zM322 102h1v1h-1zM322 100h1v1h-1zM323 103h1v1h-1zM323 99h1v1h-1zM323 99h1v1h-1zM323 103h1v1h-1zM324 100h1v1h-1zM324 102h1v1h-1zM325 101h1v1h-1zM326 102h1v1h-1zM326 100h1v1h-1zM327 103h1v1h-1zM327 99h1v1h-1zM326 99h1v1h-1zM326 103h1v1h-1zM327 100h1v1h-1zM327 102h1v1h-1zM328 101h1v1h-1zM329 102h1v1h-1zM329 100h1v1h-1zM330 103h1v1h-1zM330 99h1v1h-1zM330 99h1v1h-1zM330 103h1v1h-1zM331 100h1v1h-1zM331 102h1v1h-1zM332 101h1v1h-1zM333 102h1v1h-1zM333 100h1v1h-1zM334 103h1v1h-1zM334 99h1v1h-1zM334 99h1v1h-1zM334 103h1v1h-1zM335 100h1v1h-1zM335 102h1v1h-1zM336 101h1v1h-1zM337 102h1v1h-1zM337 100h1v1h-1zM338 103h1v1h-1zM338 99h1v1h-1zM338 99h1v1h-1zM338 103h1v1h-1zM339 100h1v1h-1zM339 102h1v1h-1zM340 101h1v1h-1zM341 102h1v1h-1zM341 100h1v1h-1zM342 103h1v1h-1zM342 99h1v1h-1zM342 99h1v1h-1zM342 103h1v1h-1zM343 100h1v1h-1zM343 102h1v1h-1zM344 101h1v1h-1zM345 102h1v1h-1zM345 100h1v1h-1zM346 103h1v1h-1zM346 99h1v1h-1zM345 99h1v1h-1zM345 103h1v1h-1zM346 100h1v1h-1zM346 102h1v1h-1zM347 101h1v1h-1zM348 102h1v1h-1zM348 100h1v1h-1zM349 103h1v1h-1zM349 99h1v1h-1zM349 99h1v1h-1zM349 103h1v1h-1zM350 100h1v1h-1zM350 102h1v1h-1zM351 101h1v1h-1zM352 102h1v1h-1zM352 100h1v1h-1zM353 103h1v1h-1zM353 99h1v1h-1zM353 110h1v1h-1zM353 114h1v1h-1zM354 111h1v1h-1zM354 113h1v1h-1zM355 112h1v1h-1zM356 113h1v1h-1zM356 111h1v1h-1zM357 114h1v1h-1zM357 110h1v1h-1zM357 110h1v1h-1zM357 114h1v1h-1zM358 111h1v1h-1zM358 113h1v1h-1zM359 112h1v1h-1zM360 113h1v1h-1zM360 111h1v1h-1zM361 114h1v1h-1zM361 110h1v1h-1zM361 121h1v1h-1zM361 125h1v1h-1zM362 122h1v1h-1zM362 124h1v1h-1zM363 123h1v1h-1zM364 124h1v1h-1zM364 122h1v1h-1zM365 125h1v1h-1zM365 121h1v1h-1zM364 121h1v1h-1zM364 125h1v1h-1zM365 122h1v1h-1zM365 124h1v1h-1zM366 123h1v1h-1zM367 124h1v1h-1zM367 122h1v1h-1zM368 125h1v1h-1zM368 121h1v1h-1zM368 121h1v1h-1zM368 125h1v1h-1zM369 122h1v1h-1zM369 124h1v1h-1zM370 123h1v1h-1zM371 124h1v1h-1zM371 122h1v1h-1zM372 125h1v1h-1zM372 121h1v1h-1zM372 132h1v1h-1zM372 136h1v1h-1zM373 133h1v1h-1zM373 135h1v1h-1zM374 134h1v1h-1zM375 135h1v1h-1zM375 133h1v1h-1zM376 136h1v1h-1zM376 132h1v1h-1zM376 132h1v1h-1zM376 136h1v1h-1zM377 133h1v1h-1zM377 135h1v1h-1zM378 134h1v1h-1zM379 135h1v1h-1zM379 133h1v1h-1zM380 136h1v1h-1zM380 132h1v1h-1zM380 143h1v1h-1zM380 147h1v1h-1zM381 144h1v1h-1zM381 146h1v1h-1zM382 145h1v1h-1zM383 146h1v1h-1zM383 144h1v1h-1zM384 147h1v1h-1zM384 143h1v1h-1zM384 154h1v1h-1zM384 158h1v1h-1zM385 155h1v1h-1zM385 157h1v1h-1zM386 156h1v1h-1zM387 157h1v1h-1zM387 155h1v1h-1zM388 158h1v1h-1zM388 154h1v1h-1zM387 154h1v1h-1zM387 158h1v1h-1zM388 155h1v1h-1zM388 157h1v1h-1zM389 156h1v1h-1zM390 157h1v1h-1zM390 155h1v1h-1zM391 158h1v1h-1zM391 154h1v1h-1zM391 165h1v1h-1zM391 169h1v1h-1zM392 166h1v1h-1zM392 168h1v1h-1zM393 167h1v1h-1zM394 168h1v1h-1zM394 166h1v1h-1zM395 169h1v1h-1zM395 165h1v1h-1zM395 175h1v1h-1zM395 179h1v1h-1zM396 176h1v1h-1zM396 178h1v1h-1zM397 177h1v1h-1zM398 178h1v1h-1zM398 176h1v1h-1zM399 179h1v1h-1zM399 175h1v1h-1zM399 186h1v1h-1zM399 190h1v1h-1zM400 187h1v1h-1zM400 189h1v1h-1zM401 188h1v1h-1zM402 189h1v1h-1zM402 187h1v1h-1zM403 190h1v1h-1zM403 186h1v1h-1zM403 197h1v1h-1zM403 201h1v1h-1zM404 198h1v1h-1zM404 200h1v1h-1zM405 199h1v1h-1zM406 200h1v1h-1zM406 198h1v1h-1zM407 201h1v1h-1zM407 197h1v1h-1zM406 208h1v1h-1zM406 212h1v1h-1zM407 209h1v1h-1zM407 211h1v1h-1zM408 210h1v1h-1zM409 211h1v1h-1zM409 209h1v1h-1zM410 212h1v1h-1zM410 208h1v1h-1zM410 219h1v1h-1zM410 223h1v1h-1zM411 220h1v1h-1zM411 222h1v1h-1zM412 221h1v1h-1zM413 222h1v1h-1zM413 220h1v1h-1zM414 223h1v1h-1zM414 219h1v1h-1zM414 230h1v1h-1zM414 234h1v1h-1zM415 231h1v1h-1zM415 233h1v1h-1zM416 232h1v1h-1zM417 233h1v1h-1zM417 231h1v1h-1zM418 234h1v1h-1zM418 230h1v1h-1zM418 241h1v1h-1zM418 245h1v1h-1zM419 242h1v1h-1zM419 244h1v1h-1zM420 243h1v1h-1zM421 244h1v1h-1zM421 242h1v1h-1zM422 245h1v1h-1zM422 241h1v1h-1zM422 252h1v1h-1zM422 256h1v1h-1zM423 253h1v1h-1zM423 255h1v1h-1zM424 254h1v1h-1zM425 255h1v1h-1zM425 253h1v1h-1zM426 256h1v1h-1zM426 252h1v1h-1zM425 263h1v1h-1zM425 267h1v1h-1zM426 264h1v1h-1zM426 266h1v1h-1zM427 265h1v1h-1zM428 266h1v1h-1zM428 264h1v1h-1zM429 267h1v1h-1zM429 263h1v1h-1zM429 273h1v1h-1zM429 277h1v1h-1zM430 274h1v1h-1zM430 276h1v1h-1zM431 275h1v1h-1zM432 276h1v1h-1zM432 274h1v1h-1zM433 277h1v1h-1zM433 273h1v1h-1zM433 295h1v1h-1zM433 299h1v1h-1zM434 296h1v1h-1zM434 298h1v1h-1zM435 297h1v1h-1zM436 298h1v1h-1zM436 296h1v1h-1zM437 299h1v1h-1zM437 295h1v1h-1zM437 306h1v1h-1zM437 310h1v1h-1zM438 307h1v1h-1zM438 309h1v1h-1zM439 308h1v1h-1zM440 309h1v1h-1zM440 307h1v1h-1zM441 310h1v1h-1zM441 306h1v1h-1zM441 317h1v1h-1zM441 321h1v1h-1zM442 318h1v1h-1zM442 320h1v1h-1zM443 319h1v1h-1zM444 320h1v1h-1zM444 318h1v1h-1zM445 321h1v1h-1zM445 317h1v1h-1zM444 328h1v1h-1zM444 332h1v1h-1zM445 329h1v1h-1zM445 331h1v1h-1zM446 330h1v1h-1zM447 331h1v1h-1zM447 329h1v1h-1zM448 332h1v1h-1zM448 328h1v1h-1zM448 350h1v1h-1zM448 354h1v1h-1zM449 351h1v1h-1zM449 353h1v1h-1zM450 352h1v1h-1zM451 353h1v1h-1zM451 351h1v1h-1zM452 354h1v1h-1zM452 350h1v1h-1zM452 361h1v1h-1zM452 365h1v1h-1zM453 362h1v1h-1zM453 364h1v1h-1zM454 363h1v1h-1zM455 364h1v1h-1zM455 362h1v1h-1zM456 365h1v1h-1zM456 361h1v1h-1zM456 382h1v1h-1zM456 386h1v1h-1zM457 383h1v1h-1zM457 385h1v1h-1zM458 384h1v1h-1zM459 385h1v1h-1zM459 383h1v1h-1zM460 386h1v1h-1zM460 382h1v1h-1zM460 393h1v1h-1zM460 397h1v1h-1zM461 394h1v1h-1zM461 396h1v1h-1zM462 395h1v1h-1zM463 396h1v1h-1zM463 394h1v1h-1zM464 397h1v1h-1zM464 393h1v1h-1zM463 404h1v1h-1zM463 408h1v1h-1zM464 405h1v1h-1zM464 407h1v1h-1zM465 406h1v1h-1zM466 407h1v1h-1zM466 405h1v1h-1zM467 408h1v1h-1zM467 404h1v1h-1zM467 426h1v1h-1zM467 430h1v1h-1zM468 427h1v1h-1zM468 429h1v1h-1zM469 428h1v1h-1zM470 429h1v1h-1zM470 427h1v1h-1zM471 430h1v1h-1zM471 426h1v1h-1zM471 437h1v1h-1zM471 441h1v1h-1zM472 438h1v1h-1zM472 440h1v1h-1zM473 439h1v1h-1zM474 440h1v1h-1zM474 438h1v1h-1zM475 441h1v1h-1zM475 437h1v1h-1zM475 459h1v1h-1zM475 463h1v1h-1zM476 460h1v1h-1zM476 462h1v1h-1zM477 461h1v1h-1zM478 462h1v1h-1zM478 460h1v1h-1zM479 463h1v1h-1zM479 459h1v1h-1zM479 469h1v1h-1zM479 473h1v1h-1zM480 470h1v1h-1zM480 472h1v1h-1zM481 471h1v1h-1zM482 472h1v1h-1zM482 470h1v1h-1zM483 473h1v1h-1zM483 469h1v1h-1zM482 491h1v1h-1zM482 495h1v1h-1zM483 492h1v1h-1zM483 494h1v1h-1zM484 493h1v1h-1zM485 494h1v1h-1zM485 492h1v1h-1zM486 495h1v1h-1zM486 491h1v1h-1zM486 502h1v1h-1zM486 506h1v1h-1zM487 503h1v1h-1zM487 505h1v1h-1zM488 504h1v1h-1zM489 505h1v1h-1zM489 503h1v1h-1zM490 506h1v1h-1zM490 502h1v1h-1zM490 513h1v1h-1zM490 517h1v1h-1zM491 514h1v1h-1zM491 516h1v1h-1zM492 515h1v1h-1zM493 516h1v1h-1zM493 514h1v1h-1zM494 517h1v1h-1zM494 513h1v1h-1zM494 535h1v1h-1zM494 539h1v1h-1zM495 536h1v1h-1zM495 538h1v1h-1zM496 537h1v1h-1zM497 538h1v1h-1zM497 536h1v1h-1zM498 539h1v1h-1zM498 535h1v1h-1zM498 546h1v1h-1zM498 550h1v1h-1zM499 547h1v1h-1zM499 549h1v1h-1zM500 548h1v1h-1zM501 549h1v1h-1zM501 547h1v1h-1zM502 550h1v1h-1zM502 546h1v1h-1zM501 567h1v1h-1zM501 571h1v1h-1zM502 568h1v1h-1zM502 570h1v1h-1zM503 569h1v1h-1zM504 570h1v1h-1zM504 568h1v1h-1zM505 571h1v1h-1zM505 567h1v1h-1zM505 578h1v1h-1zM505 582h1v1h-1zM506 579h1v1h-1zM506 581h1v1h-1zM507 580h1v1h-1zM508 581h1v1h-1zM508 579h1v1h-1zM509 582h1v1h-1zM509 578h1v1h-1zM509 600h1v1h-1zM509 604h1v1h-1zM510 601h1v1h-1zM510 603h1v1h-1zM511 602h1v1h-1zM512 603h1v1h-1zM512 601h1v1h-1zM513 604h1v1h-1zM513 600h1v1h-1zM513 611h1v1h-1zM513 615h1v1h-1zM514 612h1v1h-1zM514 614h1v1h-1zM515 613h1v1h-1zM516 614h1v1h-1zM516 612h1v1h-1zM517 615h1v1h-1zM517 611h1v1h-1zM517 633h1v1h-1zM517 637h1v1h-1zM518 634h1v1h-1zM518 636h1v1h-1zM519 635h1v1h-1zM520 636h1v1h-1zM520 634h1v1h-1zM521 637h1v1h-1zM521 633h1v1h-1zM521 644h1v1h-1zM521 648h1v1h-1zM522 645h1v1h-1zM522 647h1v1h-1zM523 646h1v1h-1zM524 647h1v1h-1zM524 645h1v1h-1zM525 648h1v1h-1zM525 644h1v1h-1zM524 665h1v1h-1zM524 669h1v1h-1zM525 666h1v1h-1zM525 668h1v1h-1zM526 667h1v1h-1zM527 668h1v1h-1zM527 666h1v1h-1zM528 669h1v1h-1zM528 665h1v1h-1zM528 676h1v1h-1zM528 680h1v1h-1zM529 677h1v1h-1zM529 679h1v1h-1zM530 678h1v1h-1zM531 679h1v1h-1zM531 677h1v1h-1zM532 680h1v1h-1zM532 676h1v1h-1zM532 687h1v1h-1zM532 691h1v1h-1zM533 688h1v1h-1zM533 690h1v1h-1zM534 689h1v1h-1zM535 690h1v1h-1zM535 688h1v1h-1zM536 691h1v1h-1zM536 687h1v1h-1zM536 709h1v1h-1zM536 713h1v1h-1zM537 710h1v1h-1zM537 712h1v1h-1zM538 711h1v1h-1zM539 712h1v1h-1zM539 710h1v1h-1zM540 713h1v1h-1zM540 709h1v1h-1zM540 720h1v1h-1zM540 724h1v1h-1zM541 721h1v1h-1zM541 723h1v1h-1zM542 722h1v1h-1zM543 723h1v1h-1zM543 721h1v1h-1zM544 724h1v1h-1zM544 720h1v1h-1zM543 731h1v1h-1zM543 735h1v1h-1zM544 732h1v1h-1zM544 734h1v1h-1zM545 733h1v1h-1zM546 734h1v1h-1zM546 732h1v1h-1zM547 735h1v1h-1zM547 731h1v1h-1zM547 753h1v1h-1zM547 757h1v1h-1zM548 754h1v1h-1zM548 756h1v1h-1zM549 755h1v1h-1zM550 756h1v1h-1zM550 754h1v1h-1zM551 757h1v1h-1zM551 753h1v1h-1zM551 763h1v1h-1zM551 767h1v1h-1zM552 764h1v1h-1zM552 766h1v1h-1zM553 765h1v1h-1zM554 766h1v1h-1zM554 764h1v1h-1zM555 767h1v1h-1zM555 763h1v1h-1zM555 774h1v1h-1zM555 778h1v1h-1zM556 775h1v1h-1zM556 777h1v1h-1zM557 776h1v1h-1zM558 777h1v1h-1zM558 775h1v1h-1zM559 778h1v1h-1zM559 774h1v1h-1zM559 785h1v1h-1zM559 789h1v1h-1zM560 786h1v1h-1zM560 788h1v1h-1zM561 787h1v1h-1zM562 788h1v1h-1zM562 786h1v1h-1zM563 789h1v1h-1zM563 785h1v1h-1zM562 796h1v1h-1zM562 800h1v1h-1zM563 797h1v1h-1zM563 799h1v1h-1zM564 798h1v1h-1zM565 799h1v1h-1zM565 797h1v1h-1zM566 800h1v1h-1zM566 796h1v1h-1zM566 818h1v1h-1zM566 822h1v1h-1zM567 819h1v1h-1zM567 821h1v1h-1zM568 820h1v1h-1zM569 821h1v1h-1zM569 819h1v1h-1zM570 822h1v1h-1zM570 818h1v1h-1zM570 829h1v1h-1zM570 833h1v1h-1zM571 830h1v1h-1zM571 832h1v1h-1zM572 831h1v1h-1zM573 832h1v1h-1zM573 830h1v1h-1zM574 833h1v1h-1zM574 829h1v1h-1zM574 840h1v1h-1zM574 844h1v1h-1zM575 841h1v1h-1zM575 843h1v1h-1zM576 842h1v1h-1zM577 843h1v1h-1zM577 841h1v1h-1zM578 844h1v1h-1zM578 840h1v1h-1zM578 851h1v1h-1zM578 855h1v1h-1zM579 852h1v1h-1zM579 854h1v1h-1zM580 853h1v1h-1zM581 854h1v1h-1zM581 852h1v1h-1zM582 855h1v1h-1zM582 851h1v1h-1zM581 861h1v1h-1zM581 865h1v1h-1zM582 862h1v1h-1zM582 864h1v1h-1zM583 863h1v1h-1zM584 864h1v1h-1zM584 862h1v1h-1zM585 865h1v1h-1zM585 861h1v1h-1zM585 872h1v1h-1zM585 876h1v1h-1zM586 873h1v1h-1zM586 875h1v1h-1zM587 874h1v1h-1zM588 875h1v1h-1zM588 873h1v1h-1zM589 876h1v1h-1zM589 872h1v1h-1zM589 872h1v1h-1zM589 876h1v1h-1zM590 873h1v1h-1zM590 875h1v1h-1zM591 874h1v1h-1zM592 875h1v1h-1zM592 873h1v1h-1zM593 876h1v1h-1zM593 872h1v1h-1zM593 883h1v1h-1zM593 887h1v1h-1zM594 884h1v1h-1zM594 886h1v1h-1zM595 885h1v1h-1zM596 886h1v1h-1zM596 884h1v1h-1zM597 887h1v1h-1zM597 883h1v1h-1zM597 894h1v1h-1zM597 898h1v1h-1zM598 895h1v1h-1zM598 897h1v1h-1zM599 896h1v1h-1zM600 897h1v1h-1zM600 895h1v1h-1zM601 898h1v1h-1zM601 894h1v1h-1zM600 905h1v1h-1zM600 909h1v1h-1zM601 906h1v1h-1zM601 908h1v1h-1zM602 907h1v1h-1zM603 908h1v1h-1zM603 906h1v1h-1zM604 909h1v1h-1zM604 905h1v1h-1zM604 905h1v1h-1zM604 909h1v1h-1zM605 906h1v1h-1zM605 908h1v1h-1zM606 907h1v1h-1zM607 908h1v1h-1zM607 906h1v1h-1zM608 909h1v1h-1zM608 905h1v1h-1zM608 916h1v1h-1zM608 920h1v1h-1zM609 917h1v1h-1zM609 919h1v1h-1zM610 918h1v1h-1zM611 919h1v1h-1zM611 917h1v1h-1zM612 920h1v1h-1zM612 916h1v1h-1zM612 927h1v1h-1zM612 931h1v1h-1zM613 928h1v1h-1zM613 930h1v1h-1zM614 929h1v1h-1zM615 930h1v1h-1zM615 928h1v1h-1zM616 931h1v1h-1zM616 927h1v1h-1zM616 927h1v1h-1zM616 931h1v1h-1zM617 928h1v1h-1zM617 930h1v1h-1zM618 929h1v1h-1zM619 930h1v1h-1zM619 928h1v1h-1zM620 931h1v1h-1zM620 927h1v1h-1zM619 927h1v1h-1zM619 931h1v1h-1zM620 928h1v1h-1zM620 930h1v1h-1zM621 929h1v1h-1zM622 930h1v1h-1zM622 928h1v1h-1zM623 931h1v1h-1zM623 927h1v1h-1zM623 938h1v1h-1zM623 942h1v1h-1zM624 939h1v1h-1zM624 941h1v1h-1zM625 940h1v1h-1zM626 941h1v1h-1zM626 939h1v1h-1zM627 942h1v1h-1zM627 938h1v1h-1zM627 938h1v1h-1zM627 942h1v1h-1zM628 939h1v1h-1zM628 941h1v1h-1zM629 940h1v1h-1zM630 941h1v1h-1zM630 939h1v1h-1zM631 942h1v1h-1zM631 938h1v1h-1zM631 948h1v1h-1zM631 952h1v1h-1zM632 949h1v1h-1zM632 951h1v1h-1zM633 950h1v1h-1zM634 951h1v1h-1zM634 949h1v1h-1zM635 952h1v1h-1zM635 948h1v1h-1zM635 948h1v1h-1zM635 952h1v1h-1zM636 949h1v1h-1zM636 951h1v1h-1zM637 950h1v1h-1zM638 951h1v1h-1zM638 949h1v1h-1zM639 952h1v1h-1zM639 948h1v1h-1zM638 948h1v1h-1zM638 952h1v1h-1zM639 949h1v1h-1zM639 951h1v1h-1zM640 950h1v1h-1zM641 951h1v1h-1zM641 949h1v1h-1zM642 952h1v1h-1zM642 948h1v1h-1zM642 948h1v1h-1zM642 952h1v1h-1zM643 949h1v1h-1zM643 951h1v1h-1zM644 950h1v1h-1zM645 951h1v1h-1zM645 949h1v1h-1zM646 952h1v1h-1zM646 948h1v1h-1zM646 948h1v1h-1zM646 952h1v1h-1zM647 949h1v1h-1zM647 951h1v1h-1zM648 950h1v1h-1zM649 951h1v1h-1zM649 949h1v1h-1zM650 952h1v1h-1zM650 948h1v1h-1zM650 948h1v1h-1zM650 952h1v1h-1zM651 949h1v1h-1zM651 951h1v1h-1zM652 950h1v1h-1zM653 951h1v1h-1zM653 949h1v1h-1zM654 952h1v1h-1zM654 948h1v1h-1zM654 948h1v1h-1zM654 952h1v1h-1zM655 949h1v1h-1zM655 951h1v1h-1zM656 950h1v1h-1zM657 951h1v1h-1zM657 949h1v1h-1zM658 952h1v1h-1zM658 948h1v1h-1zM658 948h1v1h-1zM658 952h1v1h-1zM659 949h1v1h-1zM659 951h1v1h-1zM660 950h1v1h-1zM661 951h1v1h-1zM661 949h1v1h-1zM662 952h1v1h-1zM662 948h1v1h-1zM661 948h1v1h-1zM661 952h1v1h-1zM662 949h1v1h-1zM662 951h1v1h-1zM663 950h1v1h-1zM664 951h1v1h-1zM664 949h1v1h-1zM665 952h1v1h-1zM665 948h1v1h-1zM665 948h1v1h-1zM665 952h1v1h-1zM666 949h1v1h-1zM666 951h1v1h-1zM667 950h1v1h-1zM668 951h1v1h-1zM668 949h1v1h-1zM669 952h1v1h-1zM669 948h1v1h-1zM669 948h1v1h-1zM669 952h1v1h-1zM670 949h1v1h-1zM670 951h1v1h-1zM671 950h1v1h-1zM672 951h1v1h-1zM672 949h1v1h-1zM673 952h1v1h-1zM673 948h1v1h-1zM673 948h1v1h-1zM673 952h1v1h-1zM674 949h1v1h-1zM674 951h1v1h-1zM675 950h1v1h-1zM676 951h1v1h-1zM676 949h1v1h-1zM677 952h1v1h-1zM677 948h1v1h-1zM677 948h1v1h-1zM677 952h1v1h-1zM678 949h1v1h-1zM678 951h1v1h-1zM679 950h1v1h-1zM680 951h1v1h-1zM680 949h1v1h-1zM681 952h1v1h-1zM681 948h1v1h-1zM680 948h1v1h-1zM680 952h1v1h-1zM681 949h1v1h-1zM681 951h1v1h-1zM682 950h1v1h-1zM683 951h1v1h-1zM683 949h1v1h-1zM684 952h1v1h-1zM684 948h1v1h-1zM684 948h1v1h-1zM684 952h1v1h-1zM685 949h1v1h-1zM685 951h1v1h-1zM686 950h1v1h-1zM687 951h1v1h-1zM687 949h1v1h-1zM688 952h1v1h-1zM688 948h1v1h-1zM688 938h1v1h-1zM688 942h1v1h-1zM689 939h1v1h-1zM689 941h1v1h-1zM690 940h1v1h-1zM691 941h1v1h-1zM691 939h1v1h-1zM692 942h1v1h-1zM692 938h1v1h-1zM692 938h1v1h-1zM692 942h1v1h-1zM693 939h1v1h-1zM693 941h1v1h-1zM694 940h1v1h-1zM695 941h1v1h-1zM695 939h1v1h-1zM696 942h1v1h-1zM696 938h1v1h-1zM696 927h1v1h-1zM696 931h1v1h-1zM697 928h1v1h-1zM697 930h1v1h-1zM698 929h1v1h-1zM699 930h1v1h-1zM699 928h1v1h-1zM700 931h1v1h-1zM700 927h1v1h-1zM699 927h1v1h-1zM699 931h1v1h-1zM700 928h1v1h-1zM700 930h1v1h-1zM701 929h1v1h-1zM702 930h1v1h-1zM702 928h1v1h-1zM703 931h1v1h-1zM703 927h1v1h-1zM703 927h1v1h-1zM703 931h1v1h-1zM704 928h1v1h-1zM704 930h1v1h-1zM705 929h1v1h-1zM706 930h1v1h-1zM706 928h1v1h-1zM707 931h1v1h-1zM707 927h1v1h-1zM707 916h1v1h-1zM707 920h1v1h-1zM708 917h1v1h-1zM708 919h1v1h-1zM709 918h1v1h-1zM710 919h1v1h-1zM710 917h1v1h-1zM711 920h1v1h-1zM711 916h1v1h-1zM711 916h1v1h-1zM711 920h1v1h-1zM712 917h1v1h-1zM712 919h1v1h-1zM713 918h1v1h-1zM714 919h1v1h-1zM714 917h1v1h-1zM715 920h1v1h-1zM715 916h1v1h-1zM715 905h1v1h-1zM715 909h1v1h-1zM716 906h1v1h-1zM716 908h1v1h-1zM717 907h1v1h-1zM718 908h1v1h-1zM718 906h1v1h-1zM719 909h1v1h-1zM719 905h1v1h-1zM718 905h1v1h-1zM718 909h1v1h-1zM719 906h1v1h-1zM719 908h1v1h-1zM720 907h1v1h-1zM721 908h1v1h-1zM721 906h1v1h-1zM722 909h1v1h-1zM722 905h1v1h-1zM722 905h1v1h-1zM722 909h1v1h-1zM723 906h1v1h-1zM723 908h1v1h-1zM724 907h1v1h-1zM725 908h1v1h-1zM725 906h1v1h-1zM726 909h1v1h-1zM726 905h1v1h-1z"/>
<path fill="#fff" d="M609 87h164v43h-164z"/>
<path fill="#000" d="M609 87h164v1h-164zM609 129h164v1h-164zM609 87h1v43h-1zM772 87h1v43h-1z"/>
<path fill="#000" d="M635 96h1v1h-1zM635 100h1v1h-1zM636 97h1v1h-1zM636 99h1v1h-1zM637 98h1v1h-1zM638 99h1v1h-1zM638 97h1v1h-1zM639 100h1v1h-1zM639 96h1v1h-1z"/>
<path fill="#00f" d="M636 113h3v1h-3zM634 114h2v1h-2zM639 114h2v1h-2zM634 115h1v1h-1zM640 115h1v1h-1zM633 116h1v3h-1zM641 116h1v3h-1zM634 119h1v1h-1zM640 119h1v1h-1zM634 120h2v1h-2zM639 120h2v1h-2zM636 121h3v1h-3z"/>
</g>
<g>
<text transform="translate(0 70) scale(0.926 1)"><tspan x="255.22" textLength="17.39" lengthAdjust="spacingAndGlyphs">Bz</tspan> <tspan x="277.54" textLength="24.34" lengthAdjust="spacingAndGlyphs">field</tspan> <tspan x="306.16" textLength="26.09" lengthAdjust="spacingAndGlyphs">vs.Z</tspan> <tspan x="336.50" textLength="32.36" lengthAdjust="spacingAndGlyphs">along</tspan> <tspan x="373.28" textLength="38.05" lengthAdjust="spacingAndGlyphs">Beam</tspan> <tspan x="414.63" textLength="62.81" lengthAdjust="spacingAndGlyphs">Centerline</tspan> <tspan x="481.53" textLength="28.32" lengthAdjust="spacingAndGlyphs">Axis</tspan> <tspan x="513.72" textLength="41.95" lengthAdjust="spacingAndGlyphs">Linmot</tspan> <tspan x="561.34" textLength="9.87" lengthAdjust="spacingAndGlyphs">at</tspan> <tspan x="577.00" textLength="22.55" lengthAdjust="spacingAndGlyphs">+20</tspan> <tspan x="604.62" textLength="24.23" lengthAdjust="spacingAndGlyphs">mm</tspan> <tspan x="632.88" textLength="28.17" lengthAdjust="spacingAndGlyphs">from</tspan> <tspan x="664.52" textLength="38.73" lengthAdjust="spacingAndGlyphs">center</tspan></text>
<text transform="translate(110 967) scale(0.926 1)" text-anchor="middle"><tspan dy="0.9">-</tspan><tspan dy="-0.9">0.2</tspan></text>
<text transform="translate(205.5 967) scale(0.926 1)" text-anchor="middle"><tspan dy="0.9">-</tspan><tspan dy="-0.9">0.15</tspan></text>
<text transform="translate(300 967) scale(0.926 1)" text-anchor="middle"><tspan dy="0.9">-</tspan><tspan dy="-0.9">0.1</tspan></text>
<text transform="translate(395.5 967) scale(0.926 1)" text-anchor="middle"><tspan dy="0.9">-</tspan><tspan dy="-0.9">0.05</tspan></text>
<text transform="translate(492.8 967) scale(0.926 1)" text-anchor="middle">0</text>
<text transform="translate(587.8 967) scale(0.926 1)" text-anchor="middle">0.05</text>
<text transform="translate(682.8 967) scale(0.926 1)" text-anchor="middle">0.1</text>
<text transform="translate(778.8 967) scale(0.926 1)" text-anchor="middle">0.15</text>
<text transform="translate(108.2 85) scale(0.926 1)" text-anchor="end">0.2</text>
<text transform="translate(108.2 193) scale(0.926 1)" text-anchor="end">0.1</text>
<text transform="translate(108.2 302) scale(0.926 1)" text-anchor="end">0</text>
<text transform="translate(108.2 411) scale(0.926 1)" text-anchor="end"><tspan dy="0.9">-</tspan><tspan dy="-0.9">0.1</tspan></text>
<text transform="translate(108.2 520) scale(0.926 1)" text-anchor="end"><tspan dy="0.9">-</tspan><tspan dy="-0.9">0.2</tspan></text>
<text transform="translate(108.2 629) scale(0.926 1)" text-anchor="end"><tspan dy="0.9">-</tspan><tspan dy="-0.9">0.3</tspan></text>
<text transform="translate(108.2 738) scale(0.926 1)" text-anchor="end"><tspan dy="0.9">-</tspan><tspan dy="-0.9">0.4</tspan></text>
<text transform="translate(108.2 847) scale(0.926 1)" text-anchor="end"><tspan dy="0.9">-</tspan><tspan dy="-0.9">0.5</tspan></text>
<text transform="translate(108.2 956) scale(0.926 1)" text-anchor="end"><tspan dy="0.9">-</tspan><tspan dy="-0.9">0.6</tspan></text>
<text transform="translate(0 984) scale(0.926 1)"><tspan x="463.07" textLength="7.76" lengthAdjust="spacingAndGlyphs">Z</tspan> <tspan x="475.00" textLength="21.26" lengthAdjust="spacingAndGlyphs">(m)</tspan></text>
<text transform="translate(75.2 0) rotate(-90) scale(0.926 1)"><tspan x="-610.04" textLength="16.34" lengthAdjust="spacingAndGlyphs">Bz</tspan> <tspan x="-588.55" textLength="30.35" lengthAdjust="spacingAndGlyphs">Field</tspan> <tspan x="-553.82" textLength="49.44" lengthAdjust="spacingAndGlyphs">(Gauss)</tspan></text>
<text transform="translate(0 104) scale(0.926 1)"><tspan x="712.77" textLength="18.32" lengthAdjust="spacingAndGlyphs">No</tspan> <tspan x="735.24" textLength="35.08" lengthAdjust="spacingAndGlyphs">Cover</tspan></text>
<text transform="translate(0 123) scale(0.926 1)"><tspan x="713.27" textLength="30.61" lengthAdjust="spacingAndGlyphs">Final</tspan> <tspan x="748.15" textLength="50.14" lengthAdjust="spacingAndGlyphs">CoNetic</tspan> <tspan x="801.77" textLength="25.62" lengthAdjust="spacingAndGlyphs">Box</tspan></text>
</g>
</svg>
</body>
</html>
